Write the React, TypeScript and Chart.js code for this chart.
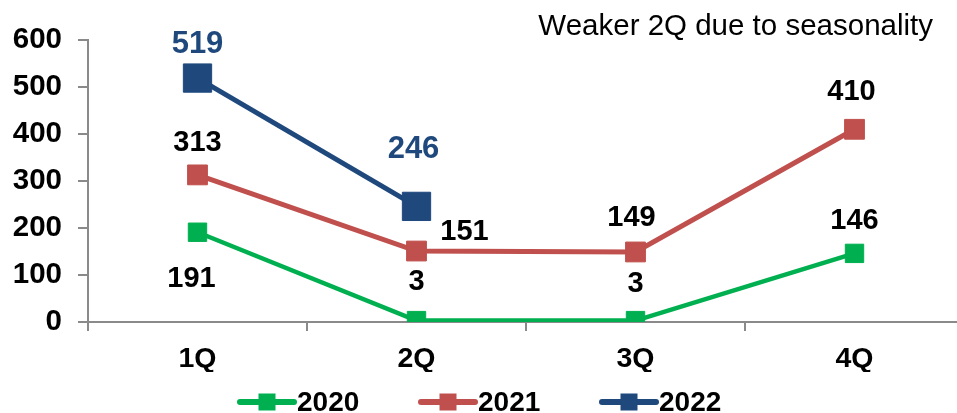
import React, { useEffect, useRef } from "react";
import { Chart, registerables } from "chart.js";

Chart.register(...registerables);

// ---- data ----
const categories = ["1Q", "2Q", "3Q", "4Q"];
const seriesNames = ["2020", "2021", "2022"];
const values2020 = [191, 3, 3, 146];
const values2021 = [313, 151, 149, 410];
const values2022: (number | null)[] = [519, 246, null, null];
const yMin = 0;
const yMax = 600;
const yStep = 100;
const noteText = "Weaker 2Q due to seasonality";

// ---- style ----
const FONT = '"Liberation Sans", Arial, Helvetica, sans-serif';
const GREEN = "#00B050";
const RED = "#C0504D";
const BLUE = "#1F497D";
const AXIS = "#8a8a8a";

const labelStyles = [
  { color: "#000000", size: 29, offsets: [[-6, 47], [0, -39], [0, -37], [0, -32]] },
  { color: "#000000", size: 29, offsets: [[0, -32], [48, -19], [-4, -34], [-3, -37]] },
  { color: BLUE, size: 31, offsets: [[0, -34], [-3, -57], [0, 0], [0, 0]] },
];

const valueLabelPlugin = {
  id: "valueLabels",
  afterDatasetsDraw(chart: any) {
    const ctx = chart.ctx;
    chart.data.datasets.forEach((ds: any, i: number) => {
      const meta = chart.getDatasetMeta(i);
      const st = labelStyles[i];
      meta.data.forEach((pt: any, j: number) => {
        const v = ds.data[j];
        if (v === null || v === undefined) return;
        const [dx, dy] = st.offsets[j];
        ctx.save();
        ctx.font = `bold ${st.size}px ${FONT}`;
        ctx.fillStyle = st.color;
        ctx.textAlign = "center";
        ctx.textBaseline = "middle";
        ctx.fillText(String(v), pt.x + dx, pt.y + dy);
        ctx.restore();
      });
    });
  },
};

const legendAndNotePlugin = {
  id: "legendAndNote",
  afterDraw(chart: any) {
    const ctx = chart.ctx;
    ctx.save();
    ctx.font = `29.5px ${FONT}`;
    ctx.fillStyle = "#000000";
    ctx.textAlign = "right";
    ctx.textBaseline = "middle";
    ctx.fillText(noteText, 933, 27);

    const y = 402;
    chart.data.datasets.forEach((ds: any, i: number) => {
      const x0 = 240 + i * 181;
      ctx.strokeStyle = ds.borderColor;
      ctx.lineWidth = 6;
      ctx.lineCap = "round";
      ctx.beginPath();
      ctx.moveTo(x0, y);
      ctx.lineTo(x0 + 54, y);
      ctx.stroke();
      ctx.fillStyle = ds.borderColor;
      const s = 17;
      ctx.fillRect(x0 + 27 - s / 2, y - s / 2, s, s);
      ctx.font = `bold 28px ${FONT}`;
      ctx.fillStyle = "#000000";
      ctx.textAlign = "left";
      ctx.textBaseline = "middle";
      ctx.fillText(ds.label, x0 + 57, y + 1);
    });
    ctx.restore();
  },
};

export default function App() {
  const ref = useRef<HTMLCanvasElement | null>(null);

  useEffect(() => {
    if (!ref.current) return;
    const chart = new Chart(ref.current, {
      type: "line",
      data: {
        labels: categories,
        datasets: [
          {
            label: seriesNames[0],
            data: values2020,
            borderColor: GREEN,
            backgroundColor: GREEN,
            borderWidth: 4.5,
            pointStyle: "rect",
            pointRadius: 13,
            pointBorderWidth: 1,
            pointBorderColor: GREEN,
            pointBackgroundColor: GREEN,
            tension: 0,
          },
          {
            label: seriesNames[1],
            data: values2021,
            borderColor: RED,
            backgroundColor: RED,
            borderWidth: 5,
            pointStyle: "rect",
            pointRadius: 14,
            pointBorderWidth: 1,
            pointBorderColor: RED,
            pointBackgroundColor: RED,
            tension: 0,
          },
          {
            label: seriesNames[2],
            data: values2022,
            borderColor: BLUE,
            backgroundColor: BLUE,
            borderWidth: 5,
            pointStyle: "rect",
            pointRadius: 20,
            pointBorderWidth: 1,
            pointBorderColor: BLUE,
            pointBackgroundColor: BLUE,
            tension: 0,
            spanGaps: false,
          },
        ],
      },
      options: {
        animation: false,
        responsive: false,
        maintainAspectRatio: false,
        events: [],
        layout: { padding: { top: 40, right: 5, bottom: 41, left: 0 } },
        plugins: {
          legend: { display: false },
          tooltip: { enabled: false },
          title: { display: false },
        },
        scales: {
          x: {
            type: "category",
            offset: true,
            afterFit: (scale: any) => {
              scale.height = 50;
            },
            border: { display: true, color: AXIS, width: 2 },
            grid: {
              offset: true,
              drawOnChartArea: false,
              drawTicks: true,
              tickLength: 9,
              color: AXIS,
              lineWidth: 2,
            },
            ticks: {
              color: "#000000",
              font: { family: FONT, size: 28.5, weight: "bold" },
              padding: 11,
              maxRotation: 0,
            },
          },
          y: {
            min: yMin,
            max: yMax,
            afterFit: (scale: any) => {
              scale.width = 88;
            },
            border: { display: true, color: AXIS, width: 2 },
            grid: {
              drawOnChartArea: false,
              drawTicks: true,
              tickLength: 10,
              color: AXIS,
              lineWidth: 2,
            },
            ticks: {
              stepSize: yStep,
              color: "#000000",
              font: { family: FONT, size: 29.5, weight: "bold" },
              padding: 16,
            },
          },
        },
      },
      plugins: [valueLabelPlugin, legendAndNotePlugin],
    } as any);
    return () => chart.destroy();
  }, []);

  return (
    <div
      style={{
        position: "fixed",
        left: 0,
        top: 0,
        width: 957,
        height: 413,
        overflow: "hidden",
        background: "#ffffff",
      }}
    >
      <canvas ref={ref} width={985} height={413} style={{ display: "block" }} />
    </div>
  );
}
